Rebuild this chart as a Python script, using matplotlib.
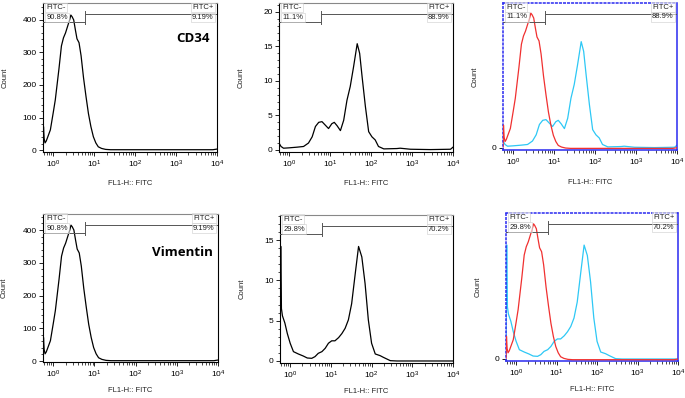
import numpy as np
import matplotlib
matplotlib.use("Agg")
import matplotlib.pyplot as plt
from matplotlib.ticker import LogLocator, LogFormatterMathtext, MultipleLocator, NullFormatter, FixedLocator

plt.rcParams["font.family"] = ["Liberation Sans", "DejaVu Sans"]
plt.rcParams["mathtext.fontset"] = "custom"
plt.rcParams["mathtext.rm"] = "Liberation Sans"
plt.rcParams["mathtext.it"] = "Liberation Sans:italic"
plt.rcParams["mathtext.bf"] = "Liberation Sans:bold"

# ================================
# DATA (log10 of FL1-H, count)
# ================================
iso_log = [-0.25, -0.238, -0.222, -0.2, -0.17, -0.12, -0.07, 0.0, 0.05, 0.14, 0.2, 0.25, 0.3,
           0.35, 0.4, 0.43, 0.46, 0.5, 0.54, 0.58, 0.63, 0.68, 0.74, 0.8, 0.86, 0.92,
           0.98, 1.04, 1.1, 1.18, 1.28, 1.4, 1.6, 2.0, 2.5, 3.0, 3.5, 3.9, 4.0]
iso_count = [5, 72, 35, 22, 28, 45, 62, 115, 154, 250, 320, 345, 360,
             380, 400, 415, 410, 400, 370, 342, 330, 290, 222, 165, 112, 72,
             41, 22, 10, 5, 2, 1, 1, 1, 1, 1, 1, 1, 3]

cd34_log = [-0.24, -0.2, -0.14, -0.01, 0.19, 0.35, 0.47, 0.56, 0.64, 0.72, 0.8, 0.88,
            0.96, 1.04, 1.1, 1.17, 1.25, 1.33, 1.41, 1.49, 1.57, 1.66, 1.72, 1.78,
            1.86, 1.94, 2.02, 2.1, 2.18, 2.31, 2.63, 2.71, 2.96, 3.45, 3.94, 4.0]
cd34_count = [0.9, 0.5, 0.25, 0.3, 0.4, 0.5, 1.0, 1.9, 3.4, 4.0, 4.1, 3.6,
              3.1, 3.8, 4.0, 3.5, 2.8, 4.3, 7.2, 9.2, 12.0, 15.4, 14.0, 10.6,
              6.3, 2.65, 1.9, 1.45, 0.5, 0.15, 0.2, 0.25, 0.1, 0.05, 0.1, 0.4]

vim_log = [-0.25, -0.238, -0.228, -0.215, -0.19, -0.17, -0.13, -0.07, 0.0, 0.08, 0.2, 0.32,
           0.42, 0.53, 0.61, 0.69, 0.78, 0.86, 0.94, 1.02, 1.1, 1.19, 1.27, 1.35,
           1.43, 1.51, 1.6, 1.68, 1.76, 1.84, 1.92, 2.0, 2.09, 2.21, 2.29, 2.46,
           2.62, 4.0]
vim_count = [0.3, 14.2, 14.2, 6.5, 5.6, 5.3, 4.7, 3.4, 2.2, 1.16, 0.87, 0.62,
             0.37, 0.33, 0.54, 0.95, 1.16, 1.57, 2.2, 2.5, 2.5, 2.9, 3.4, 4.05,
             5.1, 7.1, 10.9, 14.2, 12.9, 9.6, 5.1, 2.2, 0.87, 0.66, 0.45, 0.04,
             0.0, 0.0]

gate_log = 0.78
iso_pct = ["90.8%", "9.19%"]
cd34_pct = ["11.1%", "88.9%"]
vim_pct = ["29.8%", "70.2%"]
markers = ["CD34", "Vimentin"]

XMIN, XMAX = 10 ** -0.25, 10 ** 4
FIG_W, FIG_H = 685, 398

# ================================
# HELPERS
# ================================
def px_axes(fig, left, top, right, bottom):
    return fig.add_axes([left / FIG_W, 1 - bottom / FIG_H,
                         (right - left) / FIG_W, (bottom - top) / FIG_H])


def style_x(ax, label_y):
    ax.set_xscale("log")
    ax.set_xlim(XMIN, XMAX)
    ax.xaxis.set_major_locator(LogLocator(base=10, numticks=10))
    ax.xaxis.set_minor_locator(LogLocator(base=10, subs=np.arange(2, 10), numticks=10))
    ax.xaxis.set_major_formatter(LogFormatterMathtext())
    ax.xaxis.set_minor_formatter(NullFormatter())
    ax.tick_params(axis="x", which="major", length=3, width=0.6, labelsize=6, pad=1.5)
    ax.tick_params(axis="x", which="minor", length=1.8, width=0.5)
    ax.set_xlabel("FL1-H:: FITC", fontsize=5.5, color="#222222")
    ax.xaxis.set_label_coords(0.5, label_y)


def style_hist(ax, ylim, major, minor, label_y):
    style_x(ax, label_y)
    ax.set_ylim(*ylim)
    ax.yaxis.set_major_locator(MultipleLocator(major))
    ax.yaxis.set_minor_locator(MultipleLocator(minor))
    ax.tick_params(axis="y", which="major", length=3, width=0.6, labelsize=6, pad=1.5)
    ax.tick_params(axis="y", which="minor", length=1.6, width=0.5)
    ax.set_ylabel("Count", fontsize=5.5, color="#222222")
    ax.yaxis.set_label_coords(-0.2, 0.5)
    for s in ax.spines.values():
        s.set_linewidth(0.8)
    ax.spines["top"].set_color("#888888")


def draw_gate(ax, pcts):
    g = 10 ** gate_log
    tr = ax.get_xaxis_transform()
    ax.plot([XMIN, g], [0.874, 0.874], transform=tr, color="#555555", lw=0.7, zorder=5)
    ax.plot([g, 10 ** 3.97], [0.926, 0.926], transform=tr, color="#555555", lw=0.7, zorder=5)
    ax.plot([g, g], [0.86, 0.948], transform=tr, color="#555555", lw=0.7, zorder=5)
    box = dict(boxstyle="square,pad=0.15", fc=(1, 1, 1, 0.6), ec="#cccccc", lw=0.4)
    kw = dict(transform=ax.transAxes, fontsize=5.5, color="#222222", va="center", zorder=6)
    ax.text(0.02, 0.972, "FITC-", ha="left", bbox=box, **kw)
    ax.text(0.02, 0.905, pcts[0], ha="left", bbox=box, **kw)
    ax.text(0.98, 0.972, "FITC+", ha="right", bbox=box, **kw)
    ax.text(0.98, 0.905, pcts[1], ha="right", bbox=box, **kw)


def overlay(fig, rect, red_log, red_count, red_ylim, cy_log, cy_count, cy_ylim, pcts, label_y):
    ax = px_axes(fig, *rect)
    style_x(ax, label_y)
    ax.set_ylim(*cy_ylim)
    ax.yaxis.set_major_locator(FixedLocator([0]))
    ax.yaxis.set_minor_locator(FixedLocator([]))
    ax.tick_params(axis="y", which="major", length=3, width=0.6, labelsize=6, pad=1.5)
    ax.set_ylabel("Count", fontsize=5.5, color="#222222")
    ax.yaxis.set_label_coords(-0.14, 0.5)
    ax.plot(10 ** np.array(cy_log), cy_count, color="#2ec8f5", lw=0.9)
    for side, s in ax.spines.items():
        s.set_color("#2a2af0")
        s.set_linewidth(1.1)
        if side in ("left", "top"):
            s.set_linestyle(":")
    ax2 = ax.twinx()
    ax2.set_ylim(*red_ylim)
    ax2.set_yticks([])
    for s in ax2.spines.values():
        s.set_visible(False)
    ax2.plot(10 ** np.array(red_log), red_count, color="#f03030", lw=0.9)
    draw_gate(ax2, pcts)
    return ax


# ================================
# FIGURE
# ================================
fig = plt.figure(figsize=(FIG_W / 100, FIG_H / 100), dpi=100)

# top row: CD34
ax = px_axes(fig, 43, 3, 217, 152)
style_hist(ax, (-6, 452), 100, 20, -0.19)
ax.plot(10 ** np.array(iso_log), iso_count, color="black", lw=0.9)
draw_gate(ax, iso_pct)
ax.text(0.862, 0.765, markers[0], transform=ax.transAxes, ha="center", va="center",
        fontsize=9.5, fontweight="bold", family=["Open Sans", "DejaVu Sans"])

ax = px_axes(fig, 279, 3, 453, 152)
style_hist(ax, (-0.3, 21.3), 5, 1, -0.19)
ax.plot(10 ** np.array(cd34_log), cd34_count, color="black", lw=0.9)
draw_gate(ax, cd34_pct)

overlay(fig, (503, 3, 677, 150), iso_log, iso_count, (-4, 446),
        cd34_log, cd34_count, (-0.3, 21.0), cd34_pct, -0.2)

# bottom row: Vimentin
ax = px_axes(fig, 43, 214, 218, 362)
style_hist(ax, (-3, 449), 100, 20, -0.17)
ax.plot(10 ** np.array(iso_log), iso_count, color="black", lw=0.9)
draw_gate(ax, iso_pct)
ax.text(0.794, 0.743, markers[1], transform=ax.transAxes, ha="center", va="center",
        fontsize=9.5, fontweight="bold", family=["Open Sans", "DejaVu Sans"])

ax = px_axes(fig, 280, 215, 453, 363)
style_hist(ax, (-0.25, 18.1), 5, 1, -0.17)
ax.plot(10 ** np.array(vim_log), vim_count, color="black", lw=0.9)
draw_gate(ax, vim_pct)

overlay(fig, (506, 213, 678, 361), iso_log, iso_count, (-3, 448),
        vim_log, vim_count, (-0.25, 18.2), vim_pct, -0.17)

fig.savefig("out.png", dpi=100)
